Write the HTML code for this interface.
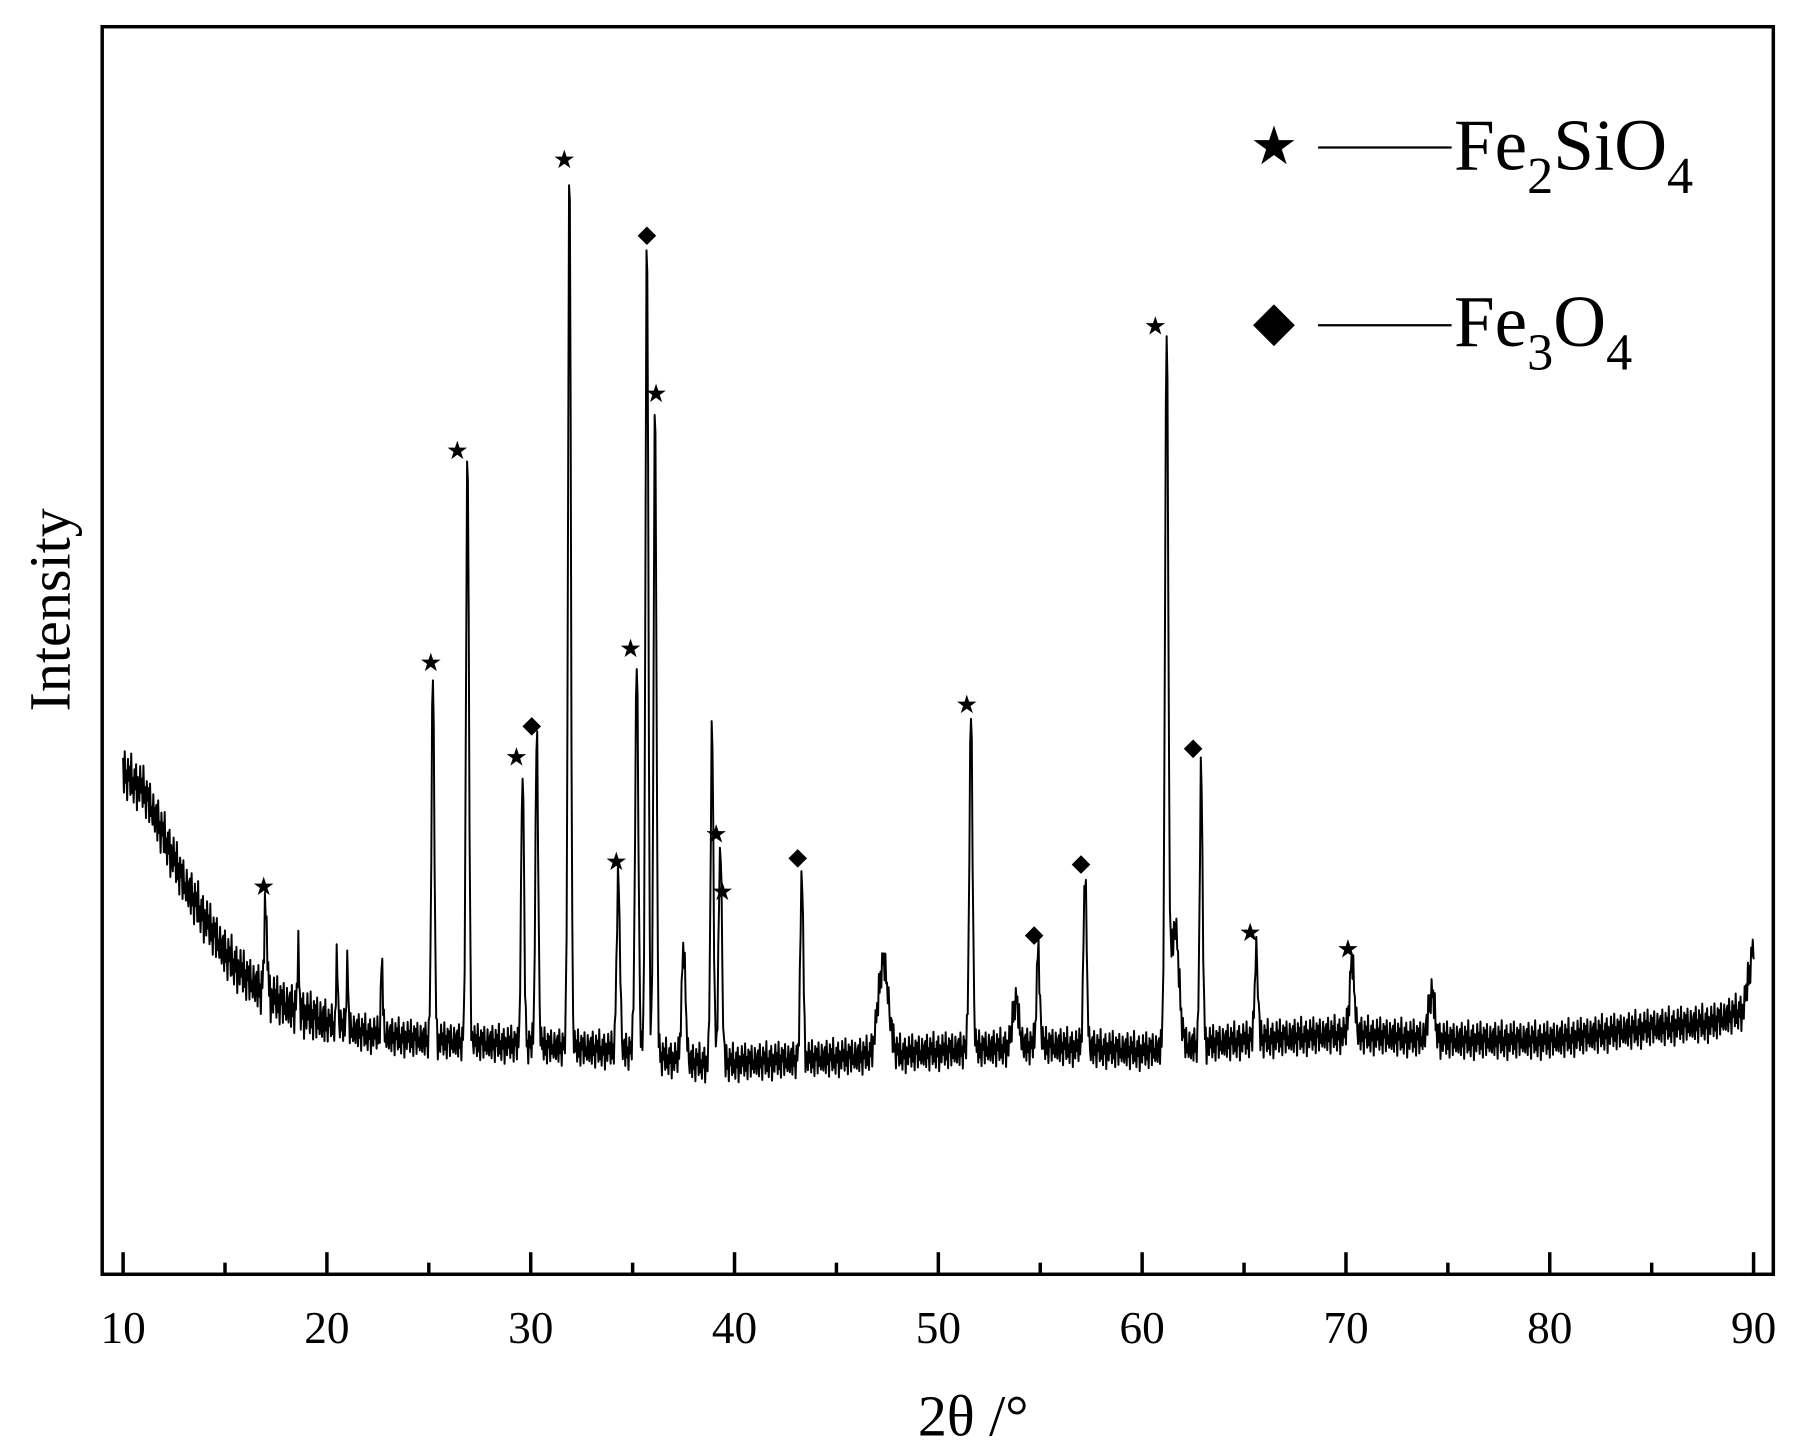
<!DOCTYPE html>
<html><head><meta charset="utf-8"><style>
html,body{margin:0;padding:0;background:#fff}
svg{display:block}
text{font-family:"Liberation Serif",serif;fill:#000}
</style></head><body>
<svg id="chart" width="1807" height="1452" viewBox="0 0 1556 1250" preserveAspectRatio="none" xmlns="http://www.w3.org/2000/svg">
<rect x="0" y="0" width="1556" height="1250" fill="#fff"/>
<rect x="88" y="23" width="1439" height="1074" fill="none" stroke="#000" stroke-width="3"/>
<g id="ticks"></g>
<g id="trace"></g>
<g id="markers"></g>
<text x="838" y="1236" font-size="50" text-anchor="middle">2θ /°</text>
<text transform="translate(60,525) rotate(-90)" font-size="50" text-anchor="middle">Intensity</text>
<g>
  <g>
    <text x="1097" y="141" font-size="46" text-anchor="middle">★</text>
    <line x1="1135" y1="127" x2="1250" y2="127" stroke="#000" stroke-width="2"/>
    <text x="1252" y="146" font-size="63">Fe<tspan font-size="45" dy="20">2</tspan><tspan dy="-20">SiO</tspan><tspan font-size="45" dy="20">4</tspan></text>
  </g>
  <g>
    <path d="M1097 262 L1115 280 L1097 298 L1079 280 Z" fill="#000"/>
    <line x1="1135" y1="280" x2="1250" y2="280" stroke="#000" stroke-width="2"/>
    <text x="1252" y="298" font-size="63">Fe<tspan font-size="45" dy="20">3</tspan><tspan dy="-20">O</tspan><tspan font-size="45" dy="20">4</tspan></text>
  </g>
</g>
</svg>
<script>
// background (2θ, intensity a.u.)
const bgAngles = [10,11,12,13,14,15,16,17,18,20,22,25,30,35,38,40,45,50,55,60,65,70,75,80,85,88,89.5,90];
const bgValues = [40.3,38.9,35.2,31.4,28.6,25.8,23.9,22.5,21.6,20.2,19.3,18.8,18.4,17.9,17.0,17.0,17.4,17.9,18.4,17.9,18.8,19.3,18.8,18.8,19.8,20.2,21.2,26.5];
// peaks: position, top intensity, width (deg)
const peakAngles = [17.0,18.6,20.5,21.0,22.7,25.2,26.9,29.6,30.3,31.9,34.3,35.2,35.7,36.1,37.5,38.9,39.3,43.3,47.3,51.6,53.8,54.9,57.2,61.2,61.6,62.9,65.6,70.3,74.2];
const peakTops   = [29.6,25.5,26.0,25.0,25.0,48.5,67.0,40.8,43.4,89.5,32.0,49.0,84.5,70.0,26.0,44.0,34.7,32.8,25.0,45.0,22.0,26.0,32.0,75.0,28.0,40.8,26.0,25.0,22.6];
const peakWidths = [0.07,0.05,0.04,0.04,0.05,0.07,0.07,0.07,0.07,0.07,0.08,0.08,0.07,0.07,0.1,0.07,0.08,0.07,0.25,0.08,0.15,0.08,0.08,0.08,0.2,0.07,0.08,0.12,0.15];
// residual noise (a.u.), applied cyclically
const noise = [0.9,-1.2,1.4,-0.5,0.3,-1.5,1.1,-0.2,0.7,-1.0,1.6,-0.8,0.2,-1.3,0.8,-0.4,1.2,-1.6,0.5,0.0,-0.9,1.3,-0.3,0.6,-1.1,1.5,-0.7,0.4,-1.4,1.0,-0.1,0.8,-1.2,1.3,-0.6,0.1,-0.9,1.1,-0.3,-1.0,0.6];
const starAngles = [16.9,25.1,26.4,29.3,31.65,34.2,34.9,36.15,39.1,39.4,51.4,60.65,65.3,70.1];
const starValues = [31.2,49.2,66.2,41.6,89.6,33.2,50.3,70.8,35.4,30.8,45.8,76.2,27.5,26.2];
const diamondAngles = [30.05,35.7,43.1,54.7,57.0,62.5];
const diamondValues = [44.0,83.4,33.4,27.2,32.9,42.2];
const xTicks = [10,20,30,40,50,60,70,80,90];
const xMinor = [15,25,35,45,55,65,75,85];

const NS='http://www.w3.org/2000/svg';
const X = a => 106 + (a-10)*17.55;
const Y = v => 1097 - v*10.72;
function bg(a){
  for(let i=0;i<bgAngles.length-1;i++){
    if(a<=bgAngles[i+1]){const t=(a-bgAngles[i])/(bgAngles[i+1]-bgAngles[i]);return bgValues[i]+t*(bgValues[i+1]-bgValues[i]);}
  }
  return bgValues[bgValues.length-1];
}
function mk(tag,attrs,parent){const e=document.createElementNS(NS,tag);for(const k in attrs)e.setAttribute(k,attrs[k]);parent.appendChild(e);return e;}

const tg=document.getElementById('ticks');
xTicks.forEach(t=>{
  const l=mk('line',{x1:X(t),x2:X(t),y1:1097,y2:1078,stroke:'#000','stroke-width':3},tg);
  
  
  const tx=mk('text',{x:X(t),y:1156,'font-size':39,'text-anchor':'middle'},tg);
  tx.textContent=t;
  
  
});
xMinor.forEach(t=>{
  const l=mk('line',{x1:X(t),x2:X(t),y1:1097,y2:1087,stroke:'#000','stroke-width':3},tg);
  
  
});

const pts=[];
let k=0;
for(let a=10;a<=90.0001;a+=0.04){
  let v=bg(a);
  for(let j=0;j<peakAngles.length;j++){
    const amp=peakTops[j]-bg(peakAngles[j]);
    const d=(a-peakAngles[j])/peakWidths[j];
    v+=amp*Math.exp(-0.5*d*d);
  }
  const nz=noise[k%noise.length]*(a<20?1.3:1.0);
  v+=nz; k++;
  pts.push(X(a).toFixed(1)+','+Y(v).toFixed(1));
}
const pl=mk('polyline',{points:pts.join(' '),fill:'none',stroke:'#000','stroke-width':1.7,'stroke-linejoin':'round'},document.getElementById('trace'));



const mg=document.getElementById('markers');
starAngles.forEach((a,i)=>{
  const s=mk('text',{x:X(a),y:Y(starValues[i])+8,'font-size':22,'text-anchor':'middle'},mg);
  s.textContent='★';
  
  
});
diamondAngles.forEach((a,i)=>{
  const cx=X(a),cy=Y(diamondValues[i]);
  const d=mk('path',{d:`M${cx} ${cy-8} L${cx+8} ${cy} L${cx} ${cy+8} L${cx-8} ${cy} Z`,fill:'#000'},mg);
  
  
});
</script>
</body></html>
